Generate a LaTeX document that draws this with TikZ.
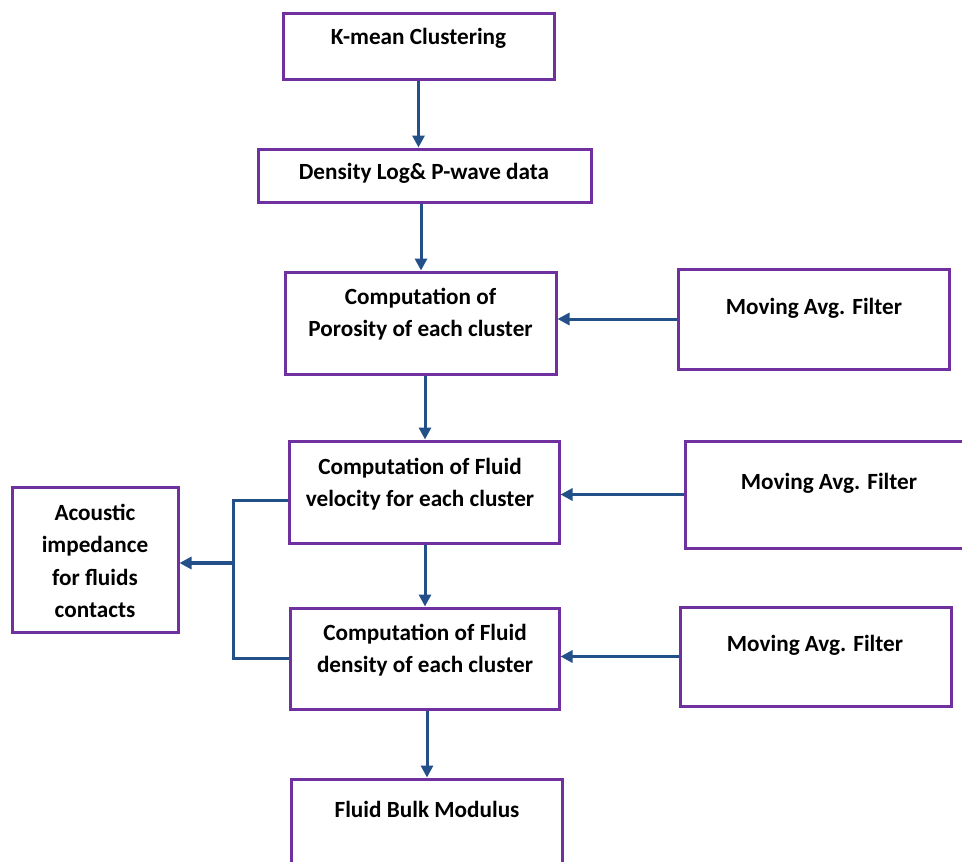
\documentclass[tikz,border=0pt]{standalone}
\usepackage{fontspec}
\setmainfont{Carlito}
\usetikzlibrary{arrows.meta}
\definecolor{box color}{HTML}{7030A0}
\definecolor{link color}{HTML}{24508A}
\tikzset{
    x={1pt},
    y={-1pt},
    step box/.style 2 args={
        draw=box color,
        line width={3pt},
        rectangle,
        inner sep=0pt,
        minimum width={#1},
        minimum height={#2},
    },
    box text/.style={
        font={\fontsize{23.2}{32.5}\selectfont\bfseries},
        align=center,
        inner sep=0pt,
    },
    link/.style={
        draw=link color,
        line width={3pt},
        -{Triangle[length=12pt,width=12pt]},
    },
    plain link/.style={
        draw=link color,
        line width={3pt},
    },
}

\begin{document}
\begin{tikzpicture}
\useasboundingbox (0,0) rectangle (962,862);
% boxes
\node[step box={271}{66}] (kmean) at (418.5,46) {};
\node[step box={333}{53}] (dlog) at (424.5,175.5) {};
\node[step box={271}{102}] (poro) at (420.5,323) {};
\node[step box={271}{100}] (filter1) at (813.5,319) {};
\node[step box={270}{102}] (velo) at (424,492) {};
\node[step box={281}{107}] (filter2) at (825.5,494.5) {};
\node[step box={166}{145}] (acou) at (95,559.5) {};
\node[step box={269}{101}] (dens) at (424.5,658.5) {};
\node[step box={271}{99}] (filter3) at (815.5,656.5) {};
\node[step box={271}{91}] (bulk) at (426.5,824.5) {};
% texts
\node[box text] (kmean text) at (418.5,38) {K-mean Clustering};
\node[box text] (dlog text) at (424,173) {Density Log\& P-wave data};
\node[box text] (poro text) at (420.5,314) {Computation of\\Porosity of each cluster};
\node[box text] (filter1 text) at (814,308) {Moving Avg. Filter};
\node[box text] (velo text) at (420,484) {Computation of Fluid\\velocity for each cluster};
\node[box text] (filter2 text) at (829,483) {Moving Avg. Filter};
\node[box text] (acou text) at (95,561) {Acoustic\\impedance\\for fluids\\contacts};
\node[box text] (dens text) at (425,650) {Computation of Fluid\\density of each cluster};
\node[box text] (filter3 text) at (815,645) {Moving Avg. Filter};
\node[box text] (bulk text) at (427,809) {Fluid Bulk Modulus};
% arrows
\draw[link] (kmean.south) -- (kmean.south |- dlog.north);
\draw[link] ([xshift=-3.5pt]dlog.south) -- ([xshift=-3.5pt]dlog.south |- poro.north);
\draw[link] ([xshift=4.5pt]poro.south) -- ([xshift=4.5pt]poro.south |- velo.north);
\draw[link] ([xshift=1pt]velo.south) -- ([xshift=1pt]velo.south |- dens.north);
\draw[link] ([xshift=2.5pt]dens.south) -- ([xshift=2.5pt]dens.south |- bulk.north);
\draw[link] (filter1.west) -- (filter1.west -| poro.east);
\draw[link] (filter2.west) -- (filter2.west -| velo.east);
\draw[link] (filter3.west) -- (filter3.west -| dens.east);
% junction to the left
\coordinate (junction) at (233,563);
\draw[plain link] ([yshift=-8pt]velo.west) -| (junction) |- (dens.west);
\draw[link, line width={3.5pt}] (junction) -- (junction -| acou.east);
\end{tikzpicture}
\end{document}
